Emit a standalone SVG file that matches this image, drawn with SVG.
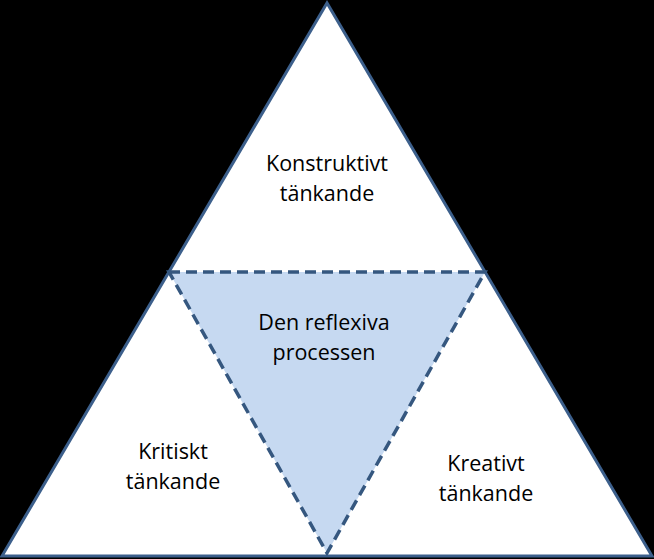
<svg xmlns="http://www.w3.org/2000/svg" width="654" height="559" viewBox="0 0 654 559">
<style>
.t{font-family:"Open Sans","Liberation Sans",sans-serif;font-size:21.5px;fill:#000;text-anchor:middle}
</style>
<rect width="654" height="559" fill="#000"/>
<g id="outer">
<polygon points="327,3 2,556 652,556" fill="#fff" stroke="#3C5F8B" stroke-width="3" stroke-linejoin="miter"/>
</g>
<g id="inner">
<polygon points="169,272 485,272 327,553" fill="#C6D9F1" stroke="#35577F" stroke-width="3.5" stroke-dasharray="11,6"/>
</g>
<g id="top"><text class="t" x="327" y="171">Konstruktivt</text><text class="t" x="327" y="201">tänkande</text></g>
<g id="center"><text class="t" x="324" y="330">Den reflexiva</text><text class="t" x="324" y="360">processen</text></g>
<g id="left"><text class="t" x="173" y="459">Kritiskt</text><text class="t" x="173" y="489">tänkande</text></g>
<g id="right"><text class="t" x="486" y="471">Kreativt</text><text class="t" x="486" y="501">tänkande</text></g>
</svg>
